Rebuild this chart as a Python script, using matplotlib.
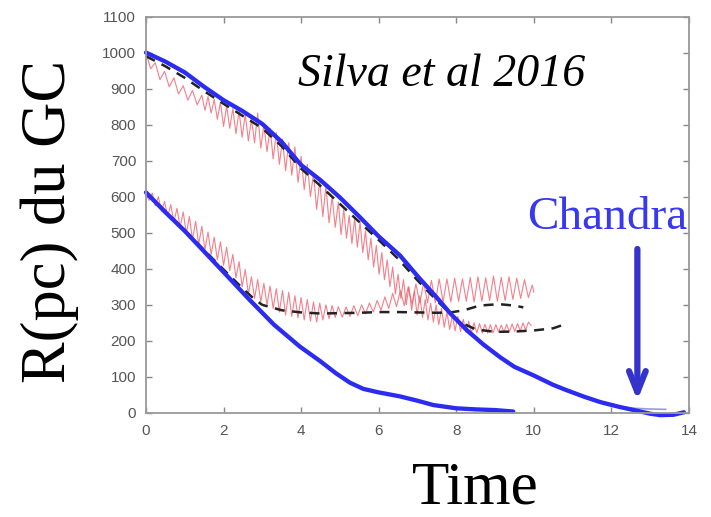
import matplotlib
matplotlib.use("Agg")
import matplotlib.pyplot as plt

# smooth semi-analytic orbits (blue)
blue_hi_x = [0, 0.5, 1, 1.5, 2, 2.5, 3, 3.5, 4, 4.5, 5, 5.5, 6, 6.55, 7, 7.5, 7.85,
             8.28, 8.7, 9.14, 9.5, 10, 10.5, 10.85, 11.3, 11.72, 12.2, 12.58, 13.0,
             13.26, 13.6, 13.87]
blue_hi_y = [1000, 975, 945, 905, 868, 837, 802, 752, 688, 646, 598, 545, 490, 437,
             380, 320, 276, 229, 190, 154, 128, 104, 78, 63, 45, 30, 17, 8, -2,
             -6, -5, 2]

blue_lo_x = [0, 0.5, 1, 1.5, 2, 2.68, 3.3, 3.97, 4.49, 4.9, 5.26, 5.6, 5.96, 6.55,
             7.0, 7.41, 8.0, 8.5, 9.0, 9.47]
blue_lo_y = [612, 557, 505, 448, 391, 313, 245, 184, 144, 110, 84, 67, 58, 46,
             34, 22, 13, 10, 8, 4]

# faint model tail under the blue curve
tail_x = [12.2, 12.6, 13.0, 13.4]
tail_y = [18, 13, 11, 10]

# mean N-body orbits (black dashed)
dash_hi_x = [0, 0.5, 1, 1.5, 2, 2.5, 3, 3.5, 4, 4.5, 5, 5.5, 6, 6.5, 7, 7.5, 7.8,
             8.1, 8.5, 9, 9.5, 10, 10.5, 10.85]
dash_hi_y = [990, 962, 930, 893, 858, 824, 790, 740, 678, 630, 580, 530, 480, 428,
             368, 312, 280, 252, 232, 225, 226, 229, 235, 248]

dash_lo_x = [0, 0.5, 1, 1.5, 2, 2.5, 2.8, 3, 3.5, 4, 4.5, 5, 5.5, 6, 6.5, 7, 7.5,
             7.85, 8.2, 8.6, 9.1, 9.5, 9.73]
dash_lo_y = [612, 560, 507, 452, 398, 345, 315, 300, 285, 279, 276, 277, 278, 280,
             280, 279, 278, 279, 285, 298, 302, 298, 293]

# raw N-body orbits (red, oscillating)
red_hi_x = [0.00, 0.12, 0.24, 0.36, 0.48, 0.60, 0.72, 0.84, 0.96, 1.08, 1.20, 1.32,
            1.44, 1.52, 1.60, 1.68, 1.76, 1.84, 1.92, 2.00, 2.08, 2.16, 2.24, 2.32,
            2.40, 2.48, 2.56, 2.64, 2.72, 2.80, 2.88, 2.96, 3.04, 3.12, 3.20, 3.28,
            3.36, 3.44, 3.52, 3.60, 3.68, 3.76, 3.84, 3.92, 4.00, 4.08, 4.16, 4.24,
            4.32, 4.40, 4.48, 4.56, 4.64, 4.72, 4.80, 4.88, 4.96, 5.03, 5.10, 5.17,
            5.24, 5.31, 5.38, 5.45, 5.52, 5.59, 5.66, 5.73, 5.80, 5.87, 5.94, 6.01,
            6.08, 6.15, 6.22, 6.29, 6.36, 6.43, 6.50, 6.57, 6.64, 6.71, 6.78, 6.85,
            6.92, 6.99, 7.06, 7.13, 7.20, 7.27, 7.34, 7.41, 7.48, 7.55, 7.62, 7.69,
            7.76, 7.83, 7.90, 7.97, 8.04, 8.11, 8.18, 8.25, 8.32, 8.39, 8.46, 8.53,
            8.60, 8.67, 8.74, 8.81, 8.88, 8.95, 9.02, 9.09, 9.16, 9.23, 9.30, 9.37,
            9.44, 9.51, 9.58, 9.65, 9.72, 9.79, 9.86, 9.93]
red_hi_y = [1000, 955, 972, 925, 948, 905, 930, 885, 908, 868, 895, 855,
            882, 840, 878, 832, 870, 815, 862, 795, 852, 790, 845, 775,
            838, 765, 830, 755, 815, 750, 832, 735, 800, 725, 790, 705,
            778, 690, 760, 672, 750, 660, 738, 640, 712, 620, 690, 600,
            665, 565, 645, 545, 630, 528, 600, 515, 585, 495, 565, 485,
            548, 470, 540, 460, 530, 445, 505, 425, 485, 405, 465, 385,
            445, 370, 425, 350, 405, 330, 385, 318, 370, 300, 350, 285,
            338, 272, 325, 265, 315, 258, 305, 252, 300, 245, 290, 238,
            280, 232, 272, 228, 268, 226, 260, 224, 255, 222, 250, 222,
            248, 222, 246, 222, 245, 222, 245, 224, 244, 224, 246, 225,
            247, 226, 248, 227, 250, 230, 252, 243]

red_lo_x = [0.00, 0.08, 0.16, 0.24, 0.32, 0.40, 0.48, 0.56, 0.64, 0.72, 0.80, 0.88,
            0.96, 1.04, 1.12, 1.20, 1.28, 1.36, 1.44, 1.52, 1.60, 1.68, 1.76, 1.84,
            1.92, 2.00, 2.08, 2.16, 2.24, 2.32, 2.40, 2.48, 2.56, 2.64, 2.72, 2.80,
            2.88, 2.96, 3.04, 3.12, 3.20, 3.28, 3.36, 3.44, 3.52, 3.60, 3.68, 3.76,
            3.84, 3.92, 4.00, 4.08, 4.16, 4.24, 4.32, 4.40, 4.48, 4.56, 4.64, 4.72,
            4.80, 4.88, 4.96, 5.06, 5.16, 5.26, 5.36, 5.46, 5.56, 5.66, 5.76, 5.86,
            5.96, 6.06, 6.16, 6.26, 6.36, 6.46, 6.56, 6.66, 6.76, 6.86, 6.96, 7.06,
            7.16, 7.26, 7.36, 7.46, 7.56, 7.66, 7.76, 7.86, 7.96, 8.06, 8.16, 8.26,
            8.36, 8.46, 8.56, 8.66, 8.76, 8.86, 8.96, 9.06, 9.16, 9.26, 9.36, 9.46,
            9.56, 9.66, 9.76, 9.86, 9.96, 10.00]
red_lo_y = [612, 590, 610, 575, 600, 560, 587, 545, 578, 530, 568, 515,
            558, 498, 545, 480, 532, 468, 518, 453, 502, 440, 488, 425,
            475, 410, 460, 395, 440, 375, 420, 350, 398, 330, 378, 318,
            370, 308, 360, 300, 352, 290, 345, 280, 340, 272, 335, 268,
            325, 264, 320, 258, 315, 255, 308, 252, 305, 258, 300, 262,
            298, 265, 295, 266, 294, 268, 298, 270, 300, 275, 305, 280,
            312, 285, 322, 290, 332, 295, 340, 298, 350, 302, 358, 305,
            362, 305, 368, 306, 372, 308, 372, 308, 374, 310, 372, 310,
            376, 308, 378, 310, 375, 312, 380, 310, 376, 312, 378, 315,
            374, 318, 370, 320, 355, 335]

x_ticks = [0, 2, 4, 6, 8, 10, 12, 14]
y_ticks = [0, 100, 200, 300, 400, 500, 600, 700, 800, 900, 1000, 1100]

BLUE = "#2b2bf2"
ARROW_BLUE = "#3434cc"
RED = "#f0606e"
SERIF = ["Liberation Serif", "DejaVu Serif"]

fig = plt.figure(figsize=(7.11, 5.17), dpi=100)
ax = fig.add_axes([0.2053, 0.2012, 0.7637, 0.7668])

ax.plot(red_hi_x, red_hi_y, color=RED, lw=0.8, alpha=0.8)
ax.plot(red_lo_x, red_lo_y, color=RED, lw=0.8, alpha=0.8)
ax.plot(dash_hi_x, dash_hi_y, color="#222222", lw=1.8, dashes=(4, 3))
ax.plot(dash_lo_x, dash_lo_y, color="#222222", lw=1.8, dashes=(4, 3))
ax.plot(tail_x, tail_y, color="#9a9ad8", lw=1.2)
ax.plot(blue_hi_x, blue_hi_y, color=BLUE, lw=3.1, clip_on=False,
        solid_capstyle="round")
ax.plot(blue_lo_x, blue_lo_y, color=BLUE, lw=3.1, clip_on=False,
        solid_capstyle="round")

ax.set_xlim(0, 14)
ax.set_ylim(0, 1100)
ax.set_xticks(x_ticks)
ax.set_yticks(y_ticks)
ax.tick_params(direction="in", top=True, right=True, length=4, width=1,
               color="#888888", labelcolor="#555555", labelsize=11)
for lab in ax.get_xticklabels() + ax.get_yticklabels():
    lab.set_family(["Liberation Sans", "DejaVu Sans"])
ax.tick_params(axis="x", pad=8)
ax.tick_params(axis="y", pad=7)
for sp in ax.spines.values():
    sp.set_color("#999999")
    sp.set_linewidth(1.3)

ax.text(0.545, 0.853, "Silva et al 2016", transform=ax.transAxes, ha="center",
        va="center", fontsize=33, style="italic", family=SERIF, color="black")
ax.text(0.85, 0.492, "Chandra", transform=ax.transAxes, ha="center",
        va="center", fontsize=34, family=SERIF, color="#3838ee")

ax.annotate("", xy=(12.67, 35), xytext=(12.67, 455),
            arrowprops=dict(arrowstyle="->,head_length=1.5,head_width=0.6",
                            lw=4.5, color=ARROW_BLUE, shrinkA=0, shrinkB=0))

fig.text(0.07, 0.572, "R(pc) du GC", rotation=90, ha="center", va="center",
         fontsize=45, family=SERIF)
fig.text(0.668, 0.055, "Time", ha="center", va="center", fontsize=44,
         family=SERIF)

fig.savefig("out.png", dpi=100)
